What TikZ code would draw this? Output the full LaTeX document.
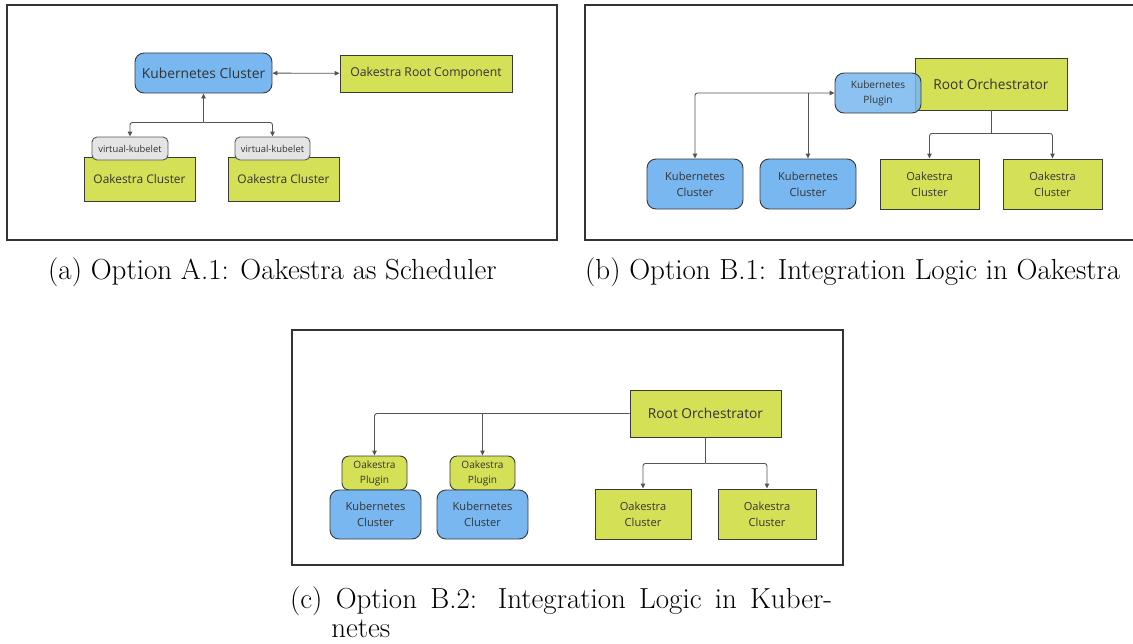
\documentclass[tikz,border=0pt]{standalone}
\usepackage{fontspec}
\usetikzlibrary{positioning, arrows.meta, calc}
\usepackage{xcolor}
\newfontfamily\diafont{Open Sans}
\definecolor{kubeblue}{HTML}{78B7EF}
\definecolor{oakgreen}{HTML}{D4E157}
\definecolor{kubeletgray}{HTML}{E4E4E4}
\definecolor{edgegray}{HTML}{3A3A3A}
\definecolor{linkgray}{HTML}{555555}

\begin{document}
\begin{tikzpicture}[x=1pt, y=-1pt,
  panel/.style={draw=black!80, line width=1.1pt},
  box/.style={draw=edgegray, line width=0.9pt, inner sep=0pt, align=center, text=black!80, font=\diafont},
  kube/.style={box, fill=kubeblue, rounded corners=9pt},
  oak/.style={box, fill=oakgreen},
  plugin/.style={box, fill=oakgreen, rounded corners=7pt},
  kubelet/.style={box, fill=kubeletgray, draw=black!65, rounded corners=5pt},
  link/.style={draw=linkgray, line width=0.9pt, rounded corners=2.5pt, >={Triangle[length=5pt, width=4.5pt]}},
  caption/.style={anchor=base west, inner sep=0pt, font=\fontsize{29}{30}\selectfont}]
  \useasboundingbox (0,0) rectangle (1133,643);

  % (a) Oakestra as scheduler
  \draw[panel] (7,5) rectangle (557,240);
  \node[kube, minimum width=137pt, minimum height=40pt, font=\diafont\fontsize{13.8}{16}\selectfont] (kca) at (203.5,73) {Kubernetes Cluster};
  \node[oak, minimum width=172pt, minimum height=37pt, font=\diafont\fontsize{12.2}{15}\selectfont] (orc) at (426,73.5) {Oakestra Root Component};
  \node[oak, minimum width=111pt, minimum height=44pt, font=\diafont\fontsize{11.9}{14}\selectfont] (oca1) at (139.5,179) {Oakestra Cluster};
  \node[oak, minimum width=111pt, minimum height=44pt, font=\diafont\fontsize{11.9}{14}\selectfont] (oca2) at (283.5,179) {Oakestra Cluster};
  \node[kubelet, minimum width=76pt, minimum height=23pt, font=\diafont\fontsize{9.4}{11}\selectfont] (vk1) at (130,148.5) {virtual-kubelet};
  \node[kubelet, minimum width=75pt, minimum height=23pt, font=\diafont\fontsize{9.4}{11}\selectfont] (vk2) at (272.5,148.5) {virtual-kubelet};

  \draw[link, <->] (kca) -- (orc);
  \draw[link, <-] (kca.south) -- ++(0,29) coordinate (ja);
  \draw[link, ->] (ja) -| (vk1.north);
  \draw[link, ->] (ja) -| (vk2.north);

  \node[caption] (capa) at (48,279) {(a) Option A.1: Oakestra as Scheduler};

  % (b) integration logic in Oakestra
  \draw[panel] (585,5) rectangle (1134,240);
  \node[oak, minimum width=152pt, minimum height=52pt, font=\diafont\fontsize{13.7}{16}\selectfont] (rob) at (991,84) {Root Orchestrator};
  \node[kube, fill opacity=0.85, text opacity=1, minimum width=86pt, minimum height=40pt, font=\diafont\fontsize{10.1}{15}\selectfont] (kp) at (878,93) {Kubernetes\\Plugin};
  \node[kube, minimum width=96pt, minimum height=50pt, font=\diafont\fontsize{11.1}{16}\selectfont] (kb1) at (695,184) {Kubernetes\\Cluster};
  \node[kube, minimum width=96pt, minimum height=50pt, font=\diafont\fontsize{11.1}{16}\selectfont] (kb2) at (808,184) {Kubernetes\\Cluster};
  \node[oak, minimum width=99pt, minimum height=50pt, font=\diafont\fontsize{11.1}{16}\selectfont] (ob1) at (929.5,184) {Oakestra\\Cluster};
  \node[oak, minimum width=99pt, minimum height=50pt, font=\diafont\fontsize{11.1}{16}\selectfont] (ob2) at (1052.5,184) {Oakestra\\Cluster};

  \draw[link, <->] (kb1.north) |- (kp.west);
  \draw[link, ->] (kp.west -| kb2.north) -- (kb2.north);
  \draw[link] (rob.south) -- ++(0,23) coordinate (jb);
  \draw[link, ->] (jb) -| (ob1.north);
  \draw[link, ->] (jb) -| (ob2.north);

  \node[caption] (capb) at (585,279) {(b) Option B.1: Integration Logic in Oakestra};

  % (c) integration logic in Kubernetes
  \draw[panel] (292,330) rectangle (843,565);
  \node[oak, minimum width=151pt, minimum height=47pt, font=\diafont\fontsize{13.7}{16}\selectfont] (roc) at (705.5,413.5) {Root Orchestrator};
  \node[plugin, minimum width=65pt, minimum height=34pt, font=\diafont\fontsize{10.1}{15}\selectfont] (op1) at (374.5,473) {Oakestra\\Plugin};
  \node[plugin, minimum width=65pt, minimum height=34pt, font=\diafont\fontsize{10.1}{15}\selectfont] (op2) at (482.5,473) {Oakestra\\Plugin};
  \node[kube, minimum width=91pt, minimum height=49pt, font=\diafont\fontsize{11.1}{16}\selectfont] (kc1) at (375.5,514.5) {Kubernetes\\Cluster};
  \node[kube, minimum width=91pt, minimum height=49pt, font=\diafont\fontsize{11.1}{16}\selectfont] (kc2) at (482.5,514.5) {Kubernetes\\Cluster};
  \node[oak, minimum width=96pt, minimum height=50pt, font=\diafont\fontsize{11.1}{16}\selectfont] (occ1) at (643,514) {Oakestra\\Cluster};
  \node[oak, minimum width=98pt, minimum height=50pt, font=\diafont\fontsize{11.1}{16}\selectfont] (occ2) at (767,514) {Oakestra\\Cluster};

  \draw[link, ->] (roc.west) -| (op1.north);
  \draw[link, ->] (roc.west -| op2.north) -- (op2.north);
  \draw[link] (roc.south) -- ++(0,26) coordinate (jc);
  \draw[link, ->] (jc) -| (occ1.north);
  \draw[link, ->] (jc) -| (occ2.north);

  \node[caption, align=left] (capc) at (290,637) {\makebox[542pt][s]{(c) Option B.2: Integration Logic in Kuber-}\\[-1pt]\hphantom{(c) }netes};
\end{tikzpicture}
\end{document}
